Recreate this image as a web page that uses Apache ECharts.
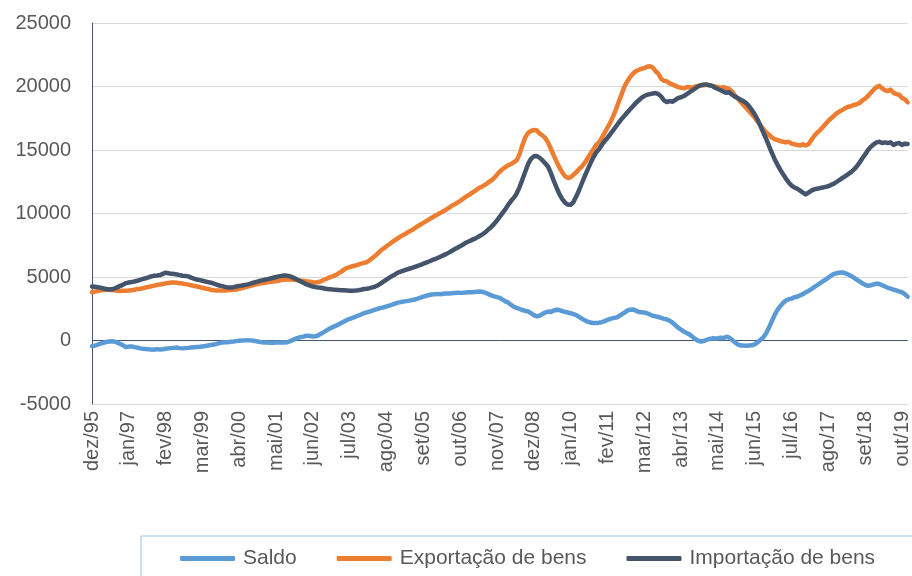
<!DOCTYPE html>
<html>
<head>
<meta charset="utf-8">
<script src="https://cdn.jsdelivr.net/npm/echarts@6/dist/echarts.min.js"></script>
<style>html,body{margin:0;padding:0;background:#fff;}#c{width:912px;height:576px;}</style>
</head>
<body>
<div id="c"></div>
<script>
// Month labels (dez/95 ... dez/19)
var monthNames = ['jan','fev','mar','abr','mai','jun','jul','ago','set','out','nov','dez'];
var startYear = 1995, startMonth = 11, monthCount = 289;
var categories = [];
for (var i = 0; i < monthCount; i++) {
  var mi = (startMonth + i) % 12;
  var yr = startYear + Math.floor((startMonth + i) / 12);
  categories.push(monthNames[mi] + '/' + String(yr).slice(2));
}

var seriesNames = ['Saldo', 'Exportação de bens', 'Importação de bens'];

var saldo = [
-450,-400,-330,-250,-180,-120,-80,-60,-90,-170,-280,-380,
-520,-480,-470,-520,-560,-620,-650,-670,-680,-720,-700,-680,
-710,-690,-650,-620,-600,-580,-560,-600,-620,-600,-580,-560,
-540,-520,-500,-470,-440,-400,-360,-320,-260,-200,-150,-140,
-130,-100,-80,-50,-20,0,10,20,10,-20,-60,-100,
-130,-150,-160,-170,-170,-160,-150,-160,-150,-130,-50,50,
150,230,270,330,380,350,320,330,420,550,680,820,
950,1050,1150,1260,1380,1500,1620,1700,1780,1870,1950,2050,
2150,2220,2280,2350,2430,2500,2570,2620,2680,2750,2820,2900,
2980,3020,3070,3100,3140,3190,3230,3300,3380,3450,3520,3580,
3620,3650,3670,3640,3680,3700,3700,3720,3740,3760,3750,3760,
3780,3790,3800,3820,3840,3860,3820,3750,3650,3550,3480,3420,
3350,3220,3080,2980,2800,2650,2560,2480,2400,2330,2280,2150,
2000,1900,1950,2080,2200,2280,2250,2350,2420,2400,2300,2250,
2200,2150,2080,2000,1850,1720,1600,1480,1410,1380,1380,1400,
1450,1530,1620,1700,1760,1800,1900,2050,2200,2350,2430,2450,
2350,2250,2220,2200,2150,2050,1950,1900,1850,1780,1700,1650,
1550,1400,1200,1000,850,700,580,480,300,120,-20,-80,
-40,50,120,170,150,180,220,200,300,220,50,-150,
-300,-390,-400,-420,-400,-380,-300,-150,50,250,550,1000,
1500,2000,2400,2700,2950,3150,3250,3300,3400,3450,3550,3650,
3800,3900,4050,4200,4350,4500,4650,4800,4950,5100,5250,5300,
5350,5350,5300,5200,5080,4950,4800,4650,4500,4380,4300,4350,
4420,4480,4450,4350,4250,4150,4080,4000,3950,3860,3800,3650,
3450
];

var exportacao = [
3800,3850,3900,3950,3980,4000,4000,3980,3950,3920,3900,3910,
3920,3930,3950,4000,4050,4080,4120,4170,4220,4270,4320,4370,
4410,4450,4500,4530,4560,4560,4540,4510,4480,4440,4400,4350,
4300,4250,4200,4150,4100,4050,4000,3960,3940,3930,3930,3940,
3950,3970,3990,4010,4070,4130,4190,4250,4300,4360,4420,4480,
4510,4550,4580,4620,4650,4690,4720,4760,4790,4800,4800,4790,
4770,4740,4710,4680,4650,4620,4580,4560,4600,4680,4780,4880,
4980,5050,5150,5280,5420,5580,5720,5780,5850,5900,5980,6050,
6110,6160,6320,6500,6680,6870,7100,7250,7420,7580,7750,7900,
8050,8200,8320,8450,8580,8700,8850,9000,9130,9260,9400,9530,
9670,9800,9920,10050,10180,10300,10450,10600,10720,10850,11000,11150,
11320,11450,11600,11750,11900,12050,12150,12300,12450,12600,12800,13050,
13300,13500,13650,13800,13900,14050,14200,14700,15400,16000,16350,16500,
16580,16550,16300,16150,15950,15600,15100,14600,14100,13650,13250,12950,
12800,12850,13050,13250,13500,13700,14000,14350,14700,15050,15400,15600,
15950,16350,16750,17150,17650,18200,18800,19400,20000,20400,20750,21000,
21200,21300,21400,21450,21550,21600,21500,21200,21000,20600,20450,20400,
20250,20150,20050,19950,19900,19850,19950,19950,19900,20000,20050,20100,
20100,20150,20100,20050,20000,19950,19900,19950,19880,19800,19600,19300,
19050,18800,18550,18300,18050,17800,17550,17250,16950,16650,16400,16200,
16000,15850,15800,15700,15650,15600,15650,15500,15450,15400,15350,15450,
15350,15450,15800,16100,16350,16550,16800,17050,17300,17500,17700,17900,
18050,18150,18300,18400,18450,18550,18600,18700,18900,19050,19250,19500,
19750,19950,20050,19850,19700,19650,19750,19500,19400,19350,19100,19000,
18750
];

var importacao = [
4250,4240,4200,4150,4100,4050,4010,4030,4100,4200,4300,4400,
4520,4560,4600,4650,4700,4780,4850,4900,4980,5050,5100,5120,
5150,5250,5340,5300,5250,5230,5200,5150,5100,5080,5050,4950,
4880,4800,4750,4700,4650,4600,4550,4480,4400,4330,4280,4220,
4180,4170,4200,4250,4300,4330,4380,4420,4480,4560,4620,4680,
4730,4780,4830,4880,4940,5000,5050,5090,5110,5100,5050,4950,
4850,4720,4620,4500,4400,4320,4250,4200,4170,4150,4100,4050,
4030,4010,4000,3980,3960,3950,3940,3920,3920,3930,3960,4000,
4050,4080,4120,4180,4250,4350,4500,4650,4800,4950,5080,5200,
5340,5420,5500,5580,5650,5720,5800,5880,5950,6050,6130,6220,
6320,6400,6500,6600,6700,6800,6920,7050,7180,7300,7420,7550,
7700,7800,7900,8000,8120,8250,8380,8550,8750,8950,9180,9450,
9750,10050,10350,10700,11000,11250,11600,12100,12700,13300,13900,14300,
14500,14520,14400,14200,13950,13700,13200,12600,12050,11550,11150,10850,
10700,10690,10900,11350,11850,12400,12950,13450,13950,14400,14800,15050,
15400,15700,15950,16250,16550,16850,17150,17450,17700,17950,18200,18450,
18700,18900,19100,19250,19350,19400,19450,19480,19400,19200,18900,18780,
18850,18800,18950,19100,19150,19250,19400,19550,19700,19850,20000,20100,
20150,20150,20100,20050,19900,19800,19700,19600,19500,19550,19350,19200,
19100,18950,18850,18700,18450,18150,17800,17400,16900,16400,15900,15350,
14800,14300,13850,13450,13100,12750,12450,12200,12050,11950,11800,11650,
11500,11650,11800,11900,11950,12000,12050,12100,12150,12250,12350,12500,
12650,12800,12950,13100,13250,13450,13700,14000,14350,14650,15000,15250,
15450,15600,15650,15550,15600,15550,15600,15400,15500,15550,15400,15500,
15480
];

var yMin = -5000, yMax = 25000, yStep = 5000;
var colors = ['#5B9BD5', '#ED7D31', '#44546A'];
var font = "'Liberation Sans', Arial, sans-serif";

var chart = echarts.init(document.getElementById('c'), null, {renderer: 'canvas'});
var mk = function (name, data, color) {
  return {
    name: name, type: 'line', data: data, symbol: 'none', smooth: false,
    lineStyle: {color: color, width: 4.5, cap: 'round', join: 'round'},
    itemStyle: {color: color}, animation: false
  };
};
chart.setOption({
  animation: false,
  color: colors,
  grid: {left: 92, right: 0, top: 23, bottom: 172, containLabel: false},
  xAxis: {
    type: 'category', data: categories, boundaryGap: false,
    axisLine: {show: false}, axisTick: {show: false},
    splitLine: {show: false},
    axisLabel: {interval: 12, rotate: 90, margin: 7, color: '#595959', fontSize: 20, fontFamily: font,
      padding: [0, 0, 0, 0]}
  },
  yAxis: {
    type: 'value', min: yMin, max: yMax, interval: yStep,
    axisLine: {show: true, lineStyle: {color: '#44546A', width: 1}},
    axisTick: {show: false},
    axisLabel: {margin: 21, color: '#595959', fontSize: 20, fontFamily: font,
      formatter: function (v) { return String(v); }},
    splitLine: {show: true, lineStyle: {width: 1, color: ['#D9D9D9', '#44546A', '#D9D9D9', '#D9D9D9', '#D9D9D9', '#D9D9D9', '#D9D9D9']}}
  },
  legend: {
    data: seriesNames, left: 141, top: 536, width: 1000, orient: 'horizontal',
    padding: [12, 60, 30, 39],
    borderColor: '#9DC3E6', borderWidth: 1,
    itemGap: 40, itemWidth: 55, itemHeight: 5, icon: 'roundRect',
    textStyle: {color: '#595959', fontSize: 21, fontFamily: font, padding: [0, 0, 0, 3]}
  },
  series: [
    mk(seriesNames[0], saldo, colors[0]),
    mk(seriesNames[1], exportacao, colors[1]),
    mk(seriesNames[2], importacao, colors[2])
  ]
});
</script>
</body>
</html>
